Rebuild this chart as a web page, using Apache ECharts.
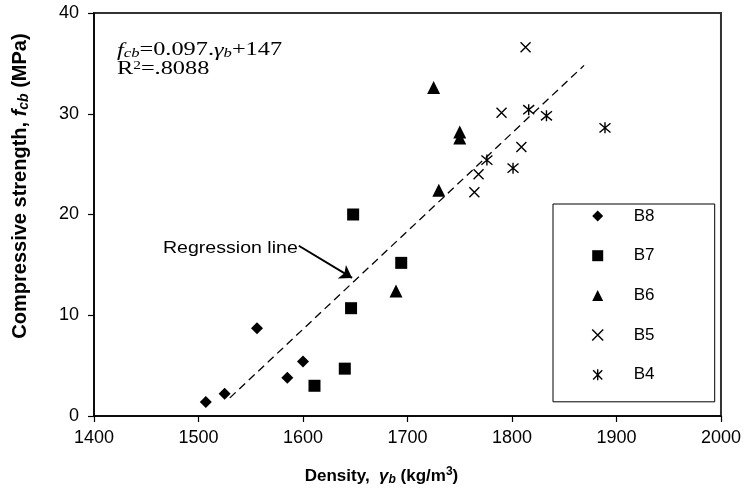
<!DOCTYPE html>
<html><head><meta charset="utf-8">
<script src="https://cdn.jsdelivr.net/npm/echarts/dist/echarts.min.js"></script>
<style>html,body{margin:0;padding:0;background:#fff}#c{width:744px;height:491px}</style>
</head><body><div id="c"></div>
<script>
// ---- data ----
const seriesNames = ['B8', 'B7', 'B6', 'B5', 'B4'];
const b8 = [[1507, 1.4], [1525, 2.2], [1556, 8.7], [1585, 3.8], [1600, 5.4]];
const b7 = [[1611, 3.0], [1640, 4.7], [1646, 10.7], [1648, 20.0], [1694, 15.2]];
const b6 = [[1689, 12.4], [1725, 32.6], [1730, 22.4], [1750, 28.2], [1750, 27.6]];
const b5 = [[1764, 22.2], [1768, 24.0], [1790, 30.1], [1809, 26.7], [1813, 36.6]];
const b4 = [[1776, 25.4], [1801, 24.6], [1816, 30.4], [1833, 29.8], [1889, 28.6]];
const regression = [[1530, 1.8], [1869, 34.8]];
const arrowCoords = [[1596, 16.9], [1647, 13.7]];
const xRange = [1400, 2000, 100];
const yRange = [0, 40, 10];

const chart = echarts.init(document.getElementById('c'), null, {renderer: 'canvas'});
const SANS = 'Liberation Sans, Arial, sans-serif';
const SERIF = 'Liberation Serif, Times New Roman, serif';
const X_PATH = 'path://M0,0L10,10M10,0L0,10';
const AST_PATH = 'path://M0,1L10,11M10,1L0,11M5,0L5,12';

function scatter(name, data, symbol, size, stroke) {
  return {
    name, type: 'scatter', data, symbol, symbolSize: size,
    itemStyle: stroke
      ? {color: 'rgba(0,0,0,0)', borderColor: '#000', borderWidth: 1.4, opacity: 1}
      : {color: '#000', opacity: 1},
    emphasis: {disabled: true}, z: 5
  };
}

chart.setOption({
  animation: false,
  backgroundColor: '#fff',
  grid: {left: 94, right: 20, top: 13, bottom: 75, show: true, borderColor: '#333', borderWidth: 2},
  xAxis: {
    type: 'value', min: xRange[0], max: xRange[1], interval: xRange[2],
    axisLine: {lineStyle: {color: '#000', width: 1.5}},
    axisTick: {show: true, length: 6, lineStyle: {color: '#000', width: 1.2}},
    axisLabel: {color: '#000', fontSize: 18, fontFamily: SANS, margin: 13, formatter: v => String(v)},
    splitLine: {show: false},
    name: '{b|Density,  }{g|γ}{gs|b}{b| (kg/m}{p|3}{b|)}',
    nameLocation: 'middle', nameGap: 50,
    nameTextStyle: {
      padding: [0, 52, 0, 0],
      rich: {
        b: {fontSize: 17, fontWeight: 'bold', fontFamily: SANS, color: '#000', lineHeight: 20},
        g: {fontSize: 17, fontWeight: 'bold', fontStyle: 'italic', fontFamily: SANS, color: '#000', lineHeight: 20},
        gs: {fontSize: 12, fontWeight: 'bold', fontStyle: 'italic', fontFamily: SANS, color: '#000', lineHeight: 12, verticalAlign: 'bottom'},
        p: {fontSize: 12, fontWeight: 'bold', fontFamily: SANS, color: '#000', lineHeight: 12, verticalAlign: 'top'}
      }
    }
  },
  yAxis: {
    type: 'value', min: yRange[0], max: yRange[1], interval: yRange[2],
    axisLine: {show: true, lineStyle: {color: '#000', width: 1.5}},
    axisTick: {show: true, length: 6, lineStyle: {color: '#000', width: 1.2}},
    axisLabel: {color: '#000', fontSize: 18, fontFamily: SANS, margin: 15},
    splitLine: {show: false},
    name: '{b|Compressive strength, }{i|f}{s|cb}{b| (MPa)}',
    nameLocation: 'middle', nameGap: 63,
    nameTextStyle: {
      padding: [0, 0, 0, 57],
      rich: {
        b: {fontSize: 20, fontWeight: 'bold', fontFamily: SANS, color: '#000', lineHeight: 22},
        i: {fontSize: 20, fontWeight: 'bold', fontStyle: 'italic', fontFamily: SANS, color: '#000', lineHeight: 22},
        s: {fontSize: 14, fontWeight: 'bold', fontStyle: 'italic', fontFamily: SANS, color: '#000', lineHeight: 14, verticalAlign: 'bottom'}
      }
    }
  },
  legend: {
    orient: 'vertical', left: 553, top: 204,
    data: seriesNames, selectedMode: false,
    itemWidth: 11, itemHeight: 11, itemGap: 19.7,
    padding: [2, 10, 17, 38.5],
    borderColor: '#000', borderWidth: 1, backgroundColor: '#fff',
    itemStyle: {borderWidth: 1.4, opacity: 1},
    textStyle: {fontSize: 17, fontFamily: SANS, color: '#000', lineHeight: 20, width: 71, padding: [0, 0, 0, 25.5]}
  },
  graphic: [
    {
      type: 'text', left: 117, top: 41, z: 10, scaleX: 1.28,
      style: {
        text: '{i|f}{s|cb}{n|=0.097.}{i|γ}{s|b}{n|+147}\n{n|R}{p|2}{n|=.8088}',
        rich: {
          n: {fontSize: 19, fontFamily: SERIF, fill: '#000', lineHeight: 19},
          i: {fontSize: 19, fontFamily: SERIF, fontStyle: 'italic', fill: '#000', lineHeight: 19},
          s: {fontSize: 13, fontFamily: SERIF, fontStyle: 'italic', fill: '#000', lineHeight: 13, verticalAlign: 'bottom'},
          p: {fontSize: 12, fontFamily: SERIF, fill: '#000', lineHeight: 12, verticalAlign: 'top'}
        }
      }
    },
    {
      type: 'text', left: 163, top: 240, z: 10, scaleX: 1.15,
      style: {text: 'Regression line', fontSize: 17, fontFamily: SANS, fill: '#000'}
    }
  ],
  series: [
    scatter('B8', b8, 'diamond', 12, false),
    scatter('B7', b7, 'rect', 12, false),
    scatter('B6', b6, 'triangle', 13, false),
    scatter('B5', b5, X_PATH, 10, true),
    scatter('B4', b4, AST_PATH, 11, true),
    {
      name: 'regression', type: 'line', data: regression, symbol: 'none',
      lineStyle: {color: '#000', width: 1.3, type: [8, 5]}, z: 3, silent: true
    },
    {
      name: 'arrow', type: 'lines', coordinateSystem: 'cartesian2d',
      data: [{coords: arrowCoords}], symbol: ['none', 'arrow'], symbolSize: 12,
      lineStyle: {color: '#000', width: 2, opacity: 1}, z: 4, silent: true
    }
  ]
});
</script>
</body></html>
